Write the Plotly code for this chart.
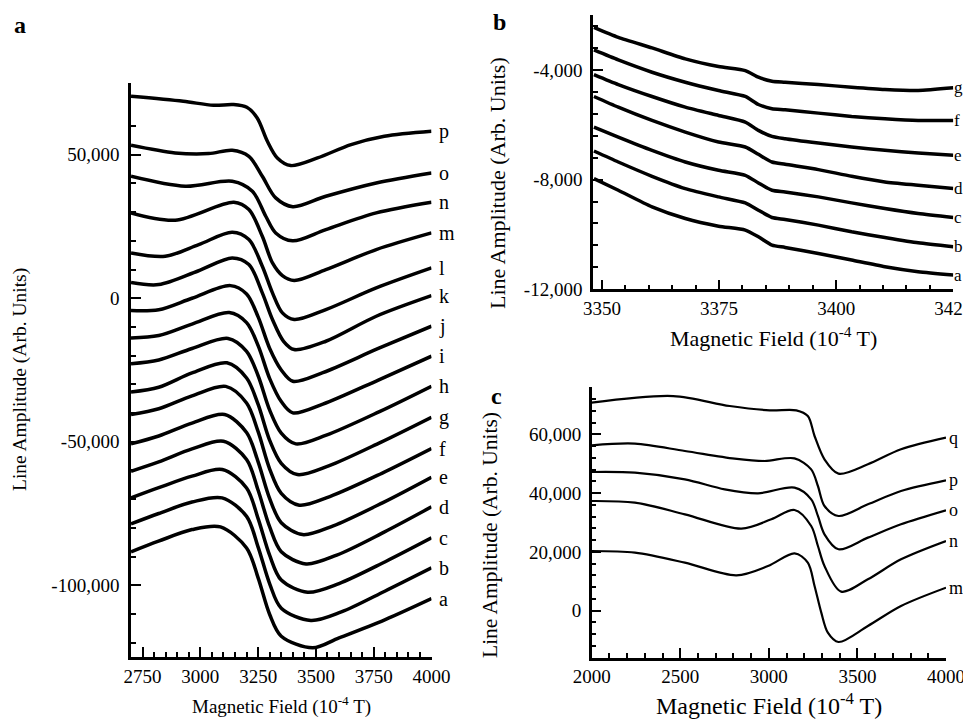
import plotly.graph_objects as go

# ---------------- Panel a data ----------------
A_LABELS = ["p", "o", "n", "m", "l", "k", "j", "i", "h", "g", "f", "e", "d", "c", "b", "a"]
A_FIELD = [
    [2700, 2926, 3057, 3143, 3201, 3246, 3290, 3333, 3391, 3507, 3652, 3796, 4000],
    [2700, 2891, 3036, 3138, 3210, 3268, 3326, 3400, 3543, 3761, 4000],
    [2700, 2935, 3138, 3225, 3283, 3326, 3399, 3543, 3761, 4000],
    [2700, 2891, 3145, 3210, 3268, 3312, 3355, 3406, 3543, 3761, 4000],
    [2700, 2848, 2993, 3138, 3210, 3268, 3312, 3355, 3406, 3543, 3761, 4000],
    [2700, 2820, 2990, 3138, 3210, 3268, 3312, 3360, 3406, 3543, 3761, 4000],
    [2700, 2820, 2964, 3130, 3200, 3250, 3300, 3350, 3400, 3530, 3770, 4000],
    [2700, 2820, 2964, 3125, 3200, 3250, 3300, 3350, 3400, 3530, 3770, 4000],
    [2700, 2820, 2964, 3120, 3200, 3250, 3300, 3350, 3413, 3545, 3775, 4000],
    [2700, 2820, 2964, 3115, 3200, 3250, 3300, 3350, 3420, 3555, 3780, 4000],
    [2700, 2820, 2964, 3110, 3200, 3250, 3300, 3350, 3428, 3560, 3785, 4000],
    [2700, 2820, 2964, 3105, 3200, 3250, 3300, 3350, 3442, 3575, 3790, 4000],
    [2700, 2820, 2964, 3100, 3200, 3250, 3300, 3350, 3457, 3590, 3795, 4000],
    [2700, 2820, 2964, 3095, 3200, 3250, 3300, 3350, 3464, 3600, 3800, 4000],
    [2700, 2820, 2964, 3094, 3200, 3250, 3300, 3350, 3478, 3610, 3800, 4000],
    [2700, 2819, 2964, 3087, 3200, 3250, 3300, 3350, 3486, 3600, 3800, 4000],
]
A_AMP = [
    [70380, 68630, 67240, 67480, 66540, 62820, 54700, 48890, 46230, 48890, 53540, 56440, 58180],
    [53300, 50640, 50400, 51570, 49470, 42500, 34960, 31900, 35540, 40180, 43660],
    [42500, 39020, 40760, 37280, 28570, 22760, 20000, 23920, 29730, 33450],
    [29700, 27180, 33450, 30890, 21600, 12310, 7900, 6200, 9990, 16960, 22760],
    [15800, 14630, 18700, 22990, 20440, 11150, 1860, -5110, -7430, -3950, 3600, 10570],
    [5500, 4760, 9500, 14050, 11730, 1860, -7430, -15000, -17880, -14980, -6270, 900],
    [-4300, -4000, 0, 4400, 1500, -6500, -17500, -25000, -28920, -25900, -17500, -9750],
    [-13820, -13000, -9000, -5000, -8500, -16500, -28000, -36000, -39950, -36900, -28500, -20200],
    [-22800, -21500, -17500, -14000, -18500, -27000, -39000, -47000, -50750, -47700, -39500, -30660],
    [-32630, -31000, -26000, -22500, -27800, -37000, -49500, -57500, -61430, -58400, -50200, -41460],
    [-40530, -38500, -34000, -30700, -36500, -46500, -59500, -68000, -72120, -69100, -61000, -52380],
    [-50750, -48000, -43500, -40530, -46800, -57000, -69800, -78200, -82340, -79300, -71200, -62360],
    [-60270, -57000, -52500, -49820, -56200, -66900, -79700, -88300, -92560, -89500, -81500, -72700],
    [-69560, -66000, -62000, -59690, -66100, -76800, -89600, -98200, -102430, -99400, -91800, -83500],
    [-78620, -75000, -71000, -69560, -76000, -86700, -99500, -108000, -112300, -109300, -102000, -93950],
    [-88375, -84660, -80600, -79670, -87000, -97430, -110200, -117760, -121820, -118340, -111950, -104630],
]
A_XTICKS = [2750, 3000, 3250, 3500, 3750, 4000]
A_YTICKS = [50000, 0, -50000, -100000]
A_YTICKTEXT = ["50,000", "0", "-50,000", "-100,000"]

# ---------------- Panel b data ----------------
B_LABELS = ["g", "f", "e", "d", "c", "b", "a"]
B_FIELD = [3348.3, 3353.5, 3360.7, 3367.8, 3374.9, 3380.6, 3383.4, 3386.3,
           3389.1, 3396.2, 3403.3, 3410.4, 3417.5, 3425]
B_AMP = [
    [-2450, -2814, -3201, -3601, -3880, -4026, -4268, -4413, -4450, -4535, -4632, -4716, -4753, -4656],
    [-3274, -3638, -4086, -4450, -4753, -4971, -5262, -5420, -5456, -5577, -5698, -5783, -5844, -5844],
    [-4171, -4535, -4971, -5359, -5662, -5904, -6207, -6425, -6510, -6668, -6813, -6934, -7031, -7116],
    [-4971, -5359, -5844, -6268, -6631, -6813, -7080, -7359, -7443, -7637, -7880, -8086, -8207, -8328],
    [-6086, -6450, -6934, -7359, -7662, -7843, -8122, -8389, -8449, -8631, -8849, -9055, -9237, -9383],
    [-6959, -7359, -7880, -8328, -8631, -8849, -9116, -9383, -9455, -9661, -9904, -10110, -10304, -10449],
    [-7965, -8389, -8995, -9419, -9698, -9843, -10086, -10389, -10474, -10692, -10934, -11177, -11358, -11480],
]
B_XTICKS = [3350, 3375, 3400, 3425]
B_YTICKS = [-4000, -8000, -12000]
B_YTICKTEXT = ["-4,000", "-8,000", "-12,000"]

# ---------------- Panel c data ----------------
C_LABELS = ["q", "p", "o", "n", "m"]
C_FIELD = [
    [2000, 2460, 2779, 3005, 3155, 3220, 3258, 3314, 3393, 3559, 3746, 4000],
    [2000, 2244, 2526, 2807, 2976, 3145, 3239, 3277, 3314, 3393, 3559, 3746, 4000],
    [2000, 2244, 2526, 2751, 2939, 3145, 3239, 3277, 3314, 3393, 3559, 3746, 4000],
    [2000, 2244, 2526, 2845, 3014, 3145, 3239, 3277, 3314, 3408, 3559, 3746, 4000],
    [2000, 2244, 2526, 2817, 2995, 3145, 3220, 3258, 3296, 3333, 3393, 3559, 3746, 4000],
]
C_AMP = [
    [70780, 73030, 69630, 68160, 68160, 66220, 59430, 51500, 46620, 49800, 54900, 58870],
    [56260, 56830, 54330, 51720, 50930, 51830, 48090, 42420, 35620, 32220, 36190, 40720, 44350],
    [47190, 46960, 44690, 41290, 39930, 41860, 37890, 32220, 25980, 20880, 24850, 29380, 34140],
    [37320, 36750, 32780, 27910, 31080, 34260, 28810, 22010, 15200, 6480, 10670, 17470, 23710],
    [20310, 19740, 16340, 12030, 15200, 19520, 16340, 8400, -670, -7470, -10650, -5200, 1600, 7830],
]
C_XTICKS = [2000, 2500, 3000, 3500, 4000]
C_YTICKS = [0, 20000, 40000, 60000]
C_YTICKTEXT = ["0", "20,000", "40,000", "60,000"]

FONT = "Liberation Serif, Times New Roman, serif"
# the page body has an 8px margin, so the figure is placed at (8, 8)
OFF = 8
W, H = 971 - OFF, 721 - OFF


def fx(px):
    return (px - OFF) / W


def fy(py):
    return 1 - (py - OFF) / H


fig = go.Figure()

for lab, xs, ys in zip(A_LABELS, A_FIELD, A_AMP):
    fig.add_trace(go.Scatter(x=xs, y=ys, mode="lines", xaxis="x", yaxis="y",
                             line=dict(color="black", width=3.5, shape="spline", smoothing=0.9),
                             showlegend=False, hoverinfo="skip"))
    fig.add_annotation(x=xs[-1], y=ys[-1], xref="x", yref="y", text=lab, showarrow=False,
                       xanchor="left", yanchor="middle", xshift=5,
                       font=dict(family=FONT, size=20, color="black"))

for lab, ys in zip(B_LABELS, B_AMP):
    fig.add_trace(go.Scatter(x=B_FIELD, y=ys, mode="lines", xaxis="x2", yaxis="y2",
                             line=dict(color="black", width=3.5, shape="spline", smoothing=0.6),
                             showlegend=False, hoverinfo="skip"))
    fig.add_annotation(x=B_FIELD[-1], y=ys[-1], xref="x2", yref="y2", text=lab, showarrow=False,
                       xanchor="left", yanchor="middle", xshift=0, borderpad=0,
                       font=dict(family=FONT, size=17, color="black"))

for lab, xs, ys in zip(C_LABELS, C_FIELD, C_AMP):
    fig.add_trace(go.Scatter(x=xs, y=ys, mode="lines", xaxis="x3", yaxis="y3",
                             line=dict(color="black", width=2.2, shape="spline", smoothing=0.9),
                             showlegend=False, hoverinfo="skip"))
    fig.add_annotation(x=xs[-1], y=ys[-1], xref="x3", yref="y3", text=lab, showarrow=False,
                       xanchor="left", yanchor="middle", xshift=2, borderpad=0,
                       font=dict(family=FONT, size=18, color="black"))


def axis(domain, rng, anchor, tickvals, ticktext, minor_dtick, minor_tick0, standoff=0):
    return dict(domain=domain, range=rng, anchor=anchor, automargin=False,
                showline=True, linecolor="black",
                linewidth=2.5, mirror=False, showgrid=False, zeroline=False,
                ticks="inside", ticklen=10, tickwidth=2, tickcolor="black",
                ticklabelstandoff=standoff, ticklabeloverflow="allow",
                tickmode="array", tickvals=tickvals, ticktext=ticktext,
                tickfont=dict(family=FONT, size=19, color="black"),
                minor=dict(ticks="inside", ticklen=5, tickwidth=2, tickcolor="black",
                           dtick=minor_dtick, tick0=minor_tick0, showgrid=False))


fig.update_layout(
    width=W, height=H, margin=dict(l=0, r=0, t=0, b=0, autoexpand=False),
    paper_bgcolor="white", plot_bgcolor="white", showlegend=False,
    xaxis=axis([fx(131), fx(431.5)], [2700, 4000], "y", A_XTICKS,
               [str(v) for v in A_XTICKS], 50, 2700),
    yaxis=axis([fy(657), fy(83)], [-125000, 75000], "x", A_YTICKS,
               A_YTICKTEXT, 10000, 0, standoff=5),
    xaxis2=axis([fx(593), fx(953.3)], [3348.1, 3425], "y2", B_XTICKS,
                [str(v) for v in B_XTICKS], 5, 3350),
    yaxis2=axis([fy(289.3), fy(15)], [-12000, -2000], "x2", B_YTICKS,
                B_YTICKTEXT, 800, -12000, standoff=4),
    xaxis3=axis([fx(591.7), fx(946)], [2000, 4000], "y3", C_XTICKS,
                [str(v) for v in C_XTICKS], 100, 2000),
    yaxis3=axis([fy(657.7), fy(387.3)], [-16000, 76000], "x3", C_YTICKS,
                C_YTICKTEXT, 4000, 0, standoff=4),
)


def paper_text(text, px, py, size, angle=0, bold=False):
    fig.add_annotation(x=fx(px), y=fy(py), xref="paper", yref="paper", text=text,
                       showarrow=False, xanchor="center", yanchor="middle", textangle=angle,
                       font=dict(family=FONT, size=size, color="black",
                                 weight="bold" if bold else "normal"))


XT = "Magnetic Field (10<sup>-4</sup> T)"
YT = "Line Amplitude (Arb. Units)"
paper_text(XT, 281, 705, 19)
paper_text(YT, 20, 380, 19.5, angle=-90)
paper_text(XT, 773, 337, 22)
paper_text(YT, 498, 183, 22, angle=-90)
paper_text(XT, 769, 704, 24)
paper_text(YT, 490, 535, 21.5, angle=-90)
paper_text("a", 20, 25, 24, bold=True)
paper_text("b", 500, 22, 24, bold=True)
paper_text("c", 497, 396, 24, bold=True)

fig.write_html("out.html")
